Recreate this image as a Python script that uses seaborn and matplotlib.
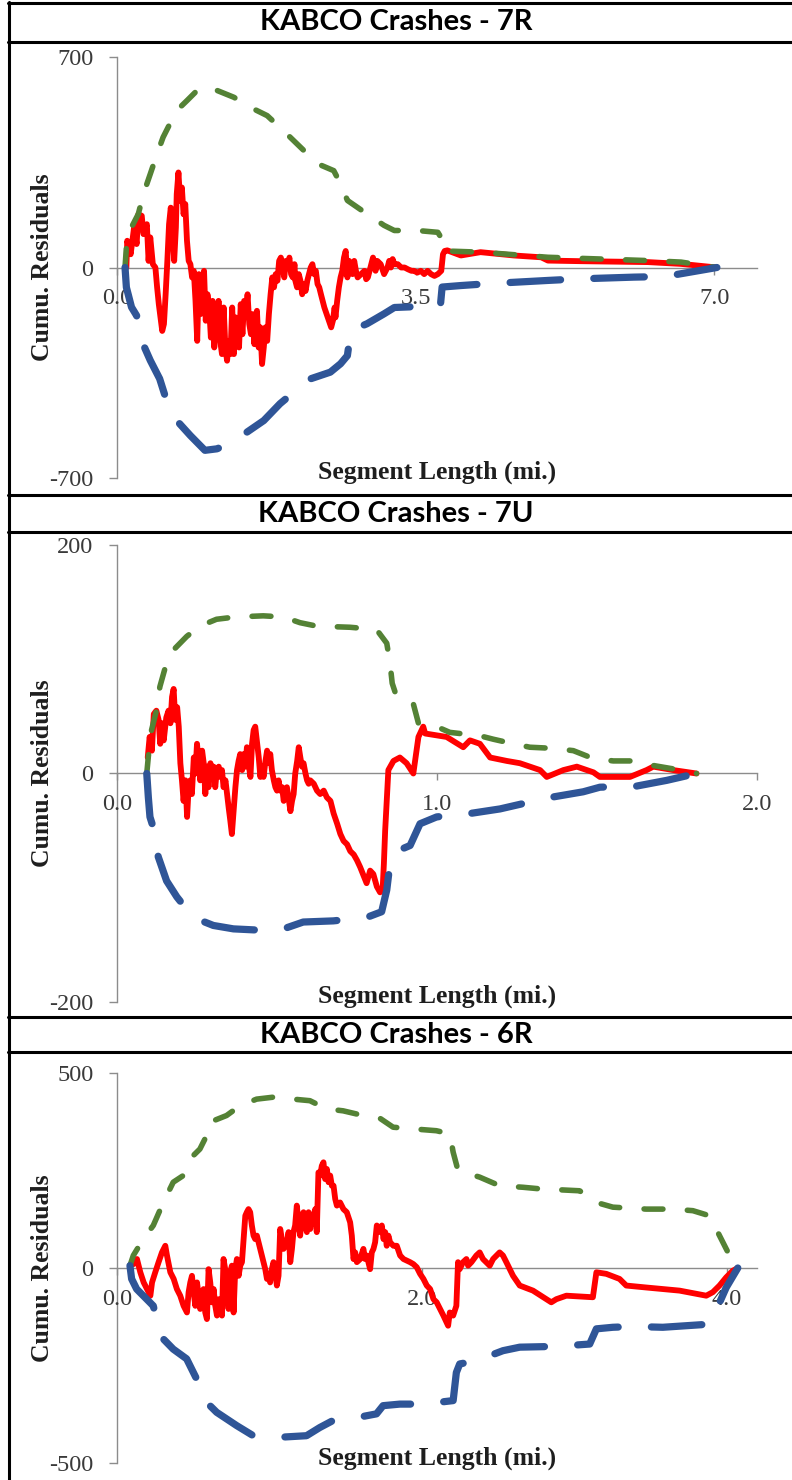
import matplotlib
matplotlib.use("Agg")
import matplotlib.pyplot as plt
import seaborn as sns
import pandas as pd
from matplotlib.lines import Line2D

# ---------------- data ----------------
titles = ["KABCO Crashes - 7R", "KABCO Crashes - 7U", "KABCO Crashes - 6R"]
x_label = "Segment Length (mi.)"
y_label = "Cumu. Residuals"

# --- 7R ---
r7_xticks = [0.0, 3.5, 7.0]
r7_yticks = [-700, 0, 700]
r7_red = [(0.11,0),(0.12,89),(0.16,44),(0.20,133),(0.23,78),(0.25,177),(0.29,172),(0.31,111),(0.35,144),(0.37,22),
          (0.39,100),(0.42,11),(0.45,0),(0.47,-66),(0.49,-122),(0.51,-166),(0.53,-211),(0.55,-188),(0.57,-89),(0.59,22),
          (0.61,144),(0.63,199),(0.65,133),(0.67,22),(0.69,133),(0.70,244),(0.72,316),(0.74,222),(0.76,266),(0.78,177),
          (0.80,211),(0.82,89),(0.84,22),(0.86,11),(0.88,-33),(0.90,-11),(0.92,-111),(0.94,-244),(0.96,-22),(0.98,-155),
          (1.00,-66),(1.02,-11),(1.04,-177),(1.06,-89),(1.08,-133),(1.10,-233),(1.12,-111),(1.14,-266),(1.16,-155),(1.17,-222),
          (1.19,-111),(1.21,-244),(1.23,-288),(1.25,-133),(1.27,-266),(1.29,-310),(1.31,-244),(1.33,-288),(1.35,-133),(1.37,-288),
          (1.39,-166),(1.41,-222),(1.43,-266),(1.45,-122),(1.47,-222),(1.49,-111),(1.51,-155),(1.53,-89),(1.55,-188),(1.57,-222),
          (1.59,-155),(1.61,-255),(1.62,-199),(1.64,-144),(1.66,-266),(1.68,-199),(1.70,-321),(1.72,-266),(1.74,-199),(1.76,-244),
          (1.78,-155),(1.80,-89),(1.82,-33),(1.84,-66),(1.86,-22),(1.88,-44),(1.90,22),(1.92,33),(1.94,11),(1.96,-33),
          (1.98,22),(2.00,0),(2.02,33),(2.04,-22),(2.06,-33),(2.08,11),(2.09,-44),(2.11,-66),(2.13,-22),(2.15,-44),
          (2.17,-89),(2.19,-55),(2.21,-78),(2.23,-44),(2.25,-22),(2.27,0),(2.29,11),(2.31,-22),(2.33,-11),(2.35,-55),
          (2.37,-66),(2.39,-89),(2.43,-133),(2.47,-166),(2.51,-199),(2.53,-177),(2.55,-133),(2.56,-166),(2.58,-111),(2.60,-66),
          (2.62,-33),(2.64,-11),(2.66,33),(2.68,55),(2.70,-33),(2.72,22),(2.74,-11),(2.76,-22),(2.78,22),(2.80,-11),
          (2.82,-33),(2.86,-22),(2.90,-11),(2.92,-39),(2.94,-33),(2.96,-11),(2.98,11),(3.00,33),(3.01,22),(3.03,-11),
          (3.05,22),(3.09,11),(3.13,-22),(3.15,-11),(3.17,0),(3.19,22),(3.21,0),(3.23,28),(3.25,11),(3.29,11),
          (3.33,0),(3.37,0),(3.41,-6),(3.45,-11),(3.48,-11),(3.52,-17),(3.56,-11),(3.60,-22),(3.64,-11),(3.68,-22),
          (3.72,-28),(3.76,-22),(3.80,-11),(3.82,44),(3.84,55),(3.87,57),(4.03,40),(4.26,51),(4.65,40),(4.97,34),
          (5.05,23),(5.44,21),(6.22,18),(6.61,12),(7.03,0)]
r7_upper = [(0.094,0),(0.11,67),(0.17,134),(0.25,178),(0.31,245),(0.39,311),(0.47,378),(0.54,433),(0.62,478),(0.70,522),
            (0.82,555),(0.94,589),(1.05,600),(1.17,589),(1.37,566),(1.56,533),(1.76,505),(1.95,455),(2.15,400),(2.35,345),
            (2.54,322),(2.62,278),(2.70,223),(2.93,178),(3.13,140),(3.25,123),(3.52,123),(3.76,117),(3.82,89),(3.84,55),
            (4.26,51),(5.05,34),(6.22,23),(6.61,18),(7.03,0)]
r7_lower = [(0.094,0),(0.11,-66),(0.17,-132),(0.23,-160),(0.27,-232),(0.39,-309),(0.50,-370),(0.58,-442),(0.70,-509),(0.86,-559),
            (1.03,-608),(1.17,-603),(1.37,-581),(1.52,-548),(1.72,-509),(1.91,-453),(2.07,-415),(2.27,-370),(2.50,-348),(2.62,-320),
            (2.70,-293),(2.74,-210),(2.93,-187),(3.13,-154),(3.25,-133),(3.52,-130),(3.79,-126),(3.81,-65),(4.03,-60),(4.34,-54),
            (5.05,-43),(5.40,-38),(6.06,-32),(6.42,-30),(7.03,0)]

# --- 7U ---
u7_xticks = [0.0, 1.0, 2.0]
u7_yticks = [-200, 0, 200]
u7_red = [(0.096,14),(0.102,32),(0.109,20),(0.115,52),(0.123,55),(0.130,47),(0.135,26),(0.141,44),(0.146,29),(0.154,49),
          (0.161,55),(0.167,44),(0.172,67),(0.177,74),(0.182,47),(0.188,58),(0.193,41),(0.198,9),(0.203,-6),(0.208,-24),
          (0.214,-6),(0.219,-38),(0.224,-12),(0.229,-6),(0.234,-18),(0.240,14),(0.245,0),(0.250,26),(0.255,11),(0.260,-6),
          (0.266,20),(0.271,9),(0.276,-18),(0.281,6),(0.286,-12),(0.292,9),(0.297,-3),(0.302,6),(0.307,-12),(0.312,3),
          (0.318,6),(0.323,-3),(0.328,3),(0.333,-12),(0.339,-6),(0.344,-18),(0.349,-30),(0.354,-41),(0.359,-53),(0.365,-30),
          (0.370,-12),(0.375,3),(0.380,11),(0.385,17),(0.391,3),(0.396,17),(0.401,6),(0.406,23),(0.411,9),(0.417,-3),
          (0.422,26),(0.427,38),(0.432,41),(0.438,26),(0.443,14),(0.448,-3),(0.453,6),(0.458,-3),(0.464,11),(0.469,20),
          (0.474,9),(0.479,17),(0.484,3),(0.490,-6),(0.495,-12),(0.500,-15),(0.505,-6),(0.510,-15),(0.516,-12),(0.521,-24),
          (0.526,-15),(0.531,-12),(0.536,-21),(0.542,-33),(0.547,-24),(0.552,-18),(0.557,0),(0.563,11),(0.568,23),(0.573,14),
          (0.578,6),(0.583,9),(0.589,0),(0.594,-6),(0.599,-9),(0.604,-6),(0.615,-9),(0.625,-15),(0.635,-18),(0.646,-15),
          (0.656,-21),(0.667,-24),(0.677,-35),(0.688,-44),(0.698,-53),(0.708,-59),(0.719,-62),(0.729,-68),(0.740,-71),(0.750,-76),
          (0.760,-82),(0.780,-96),(0.791,-85),(0.801,-88),(0.812,-99),(0.822,-104),(0.830,-102),(0.834,-79),(0.838,-50),(0.848,3),
          (0.864,11),(0.884,14),(0.905,9),(0.926,0),(0.942,32),(0.957,41),(0.963,35),(1.009,33),(1.030,32),(1.082,23),
          (1.103,29),(1.134,26),(1.166,14),(1.218,11),(1.259,9),(1.322,3),(1.343,-3),(1.395,3),(1.437,6),(1.489,1),
          (1.509,-3),(1.603,-3),(1.655,3),(1.676,6),(1.738,3),(1.811,0)]
u7_upper = [(0.093,0),(0.098,15),(0.108,38),(0.124,56),(0.134,76),(0.155,97),(0.176,108),(0.218,120),(0.259,129),(0.311,135),
            (0.370,137),(0.457,138),(0.520,137),(0.572,132),(0.624,129),(0.728,128),(0.811,126),(0.843,114),(0.853,97),(0.860,79),
            (0.874,67),(0.926,61),(0.942,44),(0.999,41),(1.040,36),(1.134,33),(1.176,30),(1.239,26),(1.290,23),(1.363,22),
            (1.426,20),(1.489,13),(1.551,11),(1.615,11),(1.676,7),(1.760,3),(1.811,0)]
u7_lower = [(0.093,0),(0.098,-21),(0.103,-38),(0.113,-47),(0.129,-73),(0.155,-94),(0.187,-108),(0.238,-126),(0.301,-133),(0.364,-136),
            (0.437,-137),(0.520,-136),(0.582,-130),(0.676,-129),(0.780,-126),(0.827,-121),(0.843,-102),(0.853,-79),(0.874,-68),(0.916,-63),
            (0.947,-44),(0.999,-38),(1.103,-35),(1.197,-31),(1.290,-25),(1.353,-21),(1.457,-16),(1.509,-12),(1.624,-11),(1.718,-6),
            (1.811,0)]

# --- 6R ---
r6_xticks = [0.0, 2.0, 4.0]
r6_yticks = [-500, 0, 500]
r6_red = [(0.09,10),(0.109,10),(0.131,23),(0.153,-11),(0.175,-37),(0.197,-54),(0.219,-71),(0.230,-37),(0.251,-11),(0.273,15),
          (0.295,40),(0.317,57),(0.328,32),(0.350,-11),(0.372,-28),(0.393,-54),(0.415,-71),(0.437,-97),(0.459,-114),(0.470,-62),
          (0.481,-37),(0.492,-20),(0.503,-62),(0.514,-97),(0.525,-37),(0.536,-71),(0.546,-105),(0.557,-71),(0.568,-54),(0.579,-114),
          (0.590,-131),(0.601,-3),(0.612,-37),(0.623,-88),(0.634,-54),(0.645,-97),(0.656,-122),(0.667,-80),(0.678,-97),(0.689,-122),
          (0.699,23),(0.710,-3),(0.721,-37),(0.732,-105),(0.743,-11),(0.754,6),(0.765,-114),(0.776,-3),(0.787,23),(0.798,-20),
          (0.809,6),(0.820,15),(0.831,74),(0.842,134),(0.852,143),(0.863,151),(0.874,143),(0.885,109),(0.896,83),(0.907,74),
          (0.918,83),(0.929,66),(0.940,49),(0.951,32),(0.962,15),(0.973,-3),(0.984,-28),(0.995,-20),(1.005,-37),(1.016,-3),
          (1.027,15),(1.038,-3),(1.049,-45),(1.060,-20),(1.071,100),(1.082,74),(1.093,49),(1.104,57),(1.115,66),(1.126,92),
          (1.137,15),(1.148,49),(1.158,92),(1.169,109),(1.180,160),(1.191,117),(1.202,83),(1.213,134),(1.224,143),(1.235,109),
          (1.246,92),(1.257,143),(1.268,100),(1.279,134),(1.290,134),(1.301,151),(1.311,92),(1.322,245),(1.333,237),(1.344,262),
          (1.355,271),(1.366,228),(1.377,254),(1.388,220),(1.399,237),(1.410,211),(1.421,211),(1.432,177),(1.443,160),(1.464,168),
          (1.486,151),(1.508,143),(1.530,117),(1.541,83),(1.552,23),(1.563,40),(1.574,15),(1.596,23),(1.617,49),(1.628,23),
          (1.639,32),(1.650,15),(1.661,-3),(1.672,40),(1.683,49),(1.694,66),(1.705,109),(1.716,100),(1.727,92),(1.738,109),
          (1.749,74),(1.760,92),(1.770,57),(1.781,83),(1.792,66),(1.814,57),(1.836,57),(1.858,32),(1.880,23),(1.902,19),
          (1.923,15),(1.945,10),(1.967,2),(1.989,-15),(2.011,-28),(2.033,-45),(2.055,-54),(2.077,-80),(2.098,-88),(2.120,-105),
          (2.142,-122),(2.162,-139),(2.173,-148),(2.184,-114),(2.206,-122),(2.227,-97),(2.238,15),(2.249,-3),(2.271,15),(2.293,23),
          (2.304,6),(2.326,15),(2.358,32),(2.380,40),(2.402,23),(2.446,6),(2.468,23),(2.511,40),(2.533,32),(2.555,15),
          (2.599,-20),(2.643,-45),(2.730,-58),(2.818,-80),(2.850,-88),(2.883,-80),(2.949,-71),(3.123,-75),(3.146,-11),(3.211,-15),
          (3.298,-28),(3.342,-45),(3.473,-50),(3.692,-58),(3.867,-71),(3.910,-62),(3.954,-45),(3.998,-24),(4.041,-7),(4.074,0)]
r6_upper = [(0.085,6),(0.107,32),(0.172,74),(0.238,109),(0.304,168),(0.369,220),(0.435,237),(0.500,288),(0.544,305),(0.599,348),
            (0.610,374),(0.719,391),(0.807,416),(0.916,433),(1.025,438),(1.156,433),(1.266,429),(1.375,408),(1.484,403),(1.615,391),
            (1.725,384),(1.812,361),(1.965,356),(2.096,352),(2.184,344),(2.206,297),(2.238,250),(2.380,233),(2.511,211),(2.664,207),
            (2.774,203),(3.036,198),(3.146,168),(3.254,156),(3.473,151),(3.648,151),(3.779,147),(3.888,134),(3.954,83),(4.020,32),
            (4.064,6),(4.074,0)]
r6_lower = [(0.085,6),(0.096,-28),(0.129,-54),(0.195,-80),(0.238,-97),(0.271,-148),(0.304,-182),(0.369,-208),(0.457,-233),(0.523,-285),
            (0.566,-336),(0.654,-370),(0.785,-404),(0.894,-430),(1.069,-434),(1.244,-430),(1.331,-409),(1.418,-391),(1.528,-387),(1.703,-374),
            (1.746,-353),(1.856,-349),(2.009,-349),(2.206,-340),(2.227,-268),(2.249,-246),(2.358,-238),(2.533,-212),(2.643,-203),(2.883,-201),
            (3.102,-195),(3.146,-156),(3.254,-152),(3.386,-150),(3.582,-152),(3.888,-144),(3.921,-118),(3.998,-50),(4.074,0)]

# ---------------- style ----------------
sns.set_theme(style="white")
plt.rcParams['font.family'] = ['Liberation Serif', 'DejaVu Serif']

RED = "#FF0000"
GREEN = "#548235"
BLUE = "#2F5597"
AXIS_GRAY = "#8C8C8C"
TICK_TXT = "#3A3A3A"

W, H = 792, 1480
fig = plt.figure(figsize=(W / 100, H / 100), dpi=100)
fig.patch.set_facecolor("white")

def fx(p):
    return p / W

def fy(p):
    return 1 - p / H

panels = [
    dict(title=titles[0], title_y=22, top=57, bottom=478, xmax=7.5,
         xticks=r7_xticks, yticks=r7_yticks, red=r7_red, up=r7_upper, lo=r7_lower),
    dict(title=titles[1], title_y=514, top=545, bottom=1002, xmax=2.0,
         xticks=u7_xticks, yticks=u7_yticks, red=u7_red, up=u7_upper, lo=u7_lower),
    dict(title=titles[2], title_y=1035, top=1073, bottom=1463, xmax=4.2,
         xticks=r6_xticks, yticks=r6_yticks, red=r6_red, up=r6_upper, lo=r6_lower),
]

AX_L, AX_R = 117, 757

for p in panels:
    ax = fig.add_axes([fx(AX_L), fy(p["bottom"]), fx(AX_R - AX_L), (p["bottom"] - p["top"]) / H])
    ax.set_facecolor("none")

    red = pd.DataFrame(p["red"], columns=["x", "y"])
    up = pd.DataFrame(p["up"], columns=["x", "y"])
    lo = pd.DataFrame(p["lo"], columns=["x", "y"])

    sns.lineplot(data=red, x="x", y="y", ax=ax, color=RED, linewidth=4.2,
                 sort=False, estimator=None)
    ax.lines[-1].set_solid_joinstyle("round")
    sns.lineplot(data=up, x="x", y="y", ax=ax, color=GREEN, linewidth=4.0,
                 sort=False, estimator=None)
    ax.lines[-1].set_linestyle((0, (3.4, 4.4)))
    ax.lines[-1].set_dash_capstyle("round")
    sns.lineplot(data=lo, x="x", y="y", ax=ax, color=BLUE, linewidth=5.2,
                 sort=False, estimator=None)
    ax.lines[-1].set_linestyle((0, (7.0, 4.6)))
    ax.lines[-1].set_dash_capstyle("round")

    ylim = p["yticks"][-1]
    ax.set_ylim(-ylim, ylim)
    ax.set_xlim(0, p["xmax"])
    ax.set_yticks(p["yticks"])
    ax.set_yticklabels([str(v) for v in p["yticks"]])
    ax.set_xticks(p["xticks"])
    ax.set_xticklabels([f"{v:.1f}" for v in p["xticks"]])

    for s in ("top", "right"):
        ax.spines[s].set_visible(False)
    ax.spines["left"].set_color(AXIS_GRAY)
    ax.spines["left"].set_linewidth(1.0)
    ax.spines["bottom"].set_color(AXIS_GRAY)
    ax.spines["bottom"].set_linewidth(1.0)
    ax.spines["bottom"].set_position(("data", 0))
    ax.spines["left"].set_zorder(0.5)
    ax.spines["bottom"].set_zorder(0.5)

    ax.tick_params(axis="y", direction="out", length=6, width=1.0, color=AXIS_GRAY,
                   labelsize=17.5, labelcolor=TICK_TXT, pad=11, left=True)
    ax.tick_params(axis="x", direction="out", length=5, width=1.0, color=AXIS_GRAY,
                   labelsize=17.5, labelcolor=TICK_TXT, pad=10, bottom=True)

    ax.set_xlabel(x_label, fontsize=18.5, fontweight="bold", color="#1E1E1E")
    ax.xaxis.set_label_coords(0.5, 0.013)
    ax.xaxis.label.set_va("center")
    ax.set_ylabel(y_label, fontsize=18.5, fontweight="bold", color="#1E1E1E")
    ax.yaxis.set_label_coords(-0.117, 0.5)
    ax.yaxis.label.set_va("center")

    fig.text(0.5, fy(p["title_y"]), p["title"], ha="center", va="center",
             fontsize=21, fontweight="bold", family=["Lato", "DejaVu Sans"], color="black")

# table borders (left edge and row separators; right edge runs off the image)
LW = 2.2
for yy in (2.5, 42, 495.5, 532, 1017, 1052):
    fig.add_artist(Line2D([fx(7.5), fx(792)], [fy(yy), fy(yy)], color="black", lw=LW))
fig.add_artist(Line2D([fx(8.5), fx(8.5)], [fy(1.5), fy(1480)], color="black", lw=LW))

fig.savefig("out.png", dpi=100, facecolor="white")
